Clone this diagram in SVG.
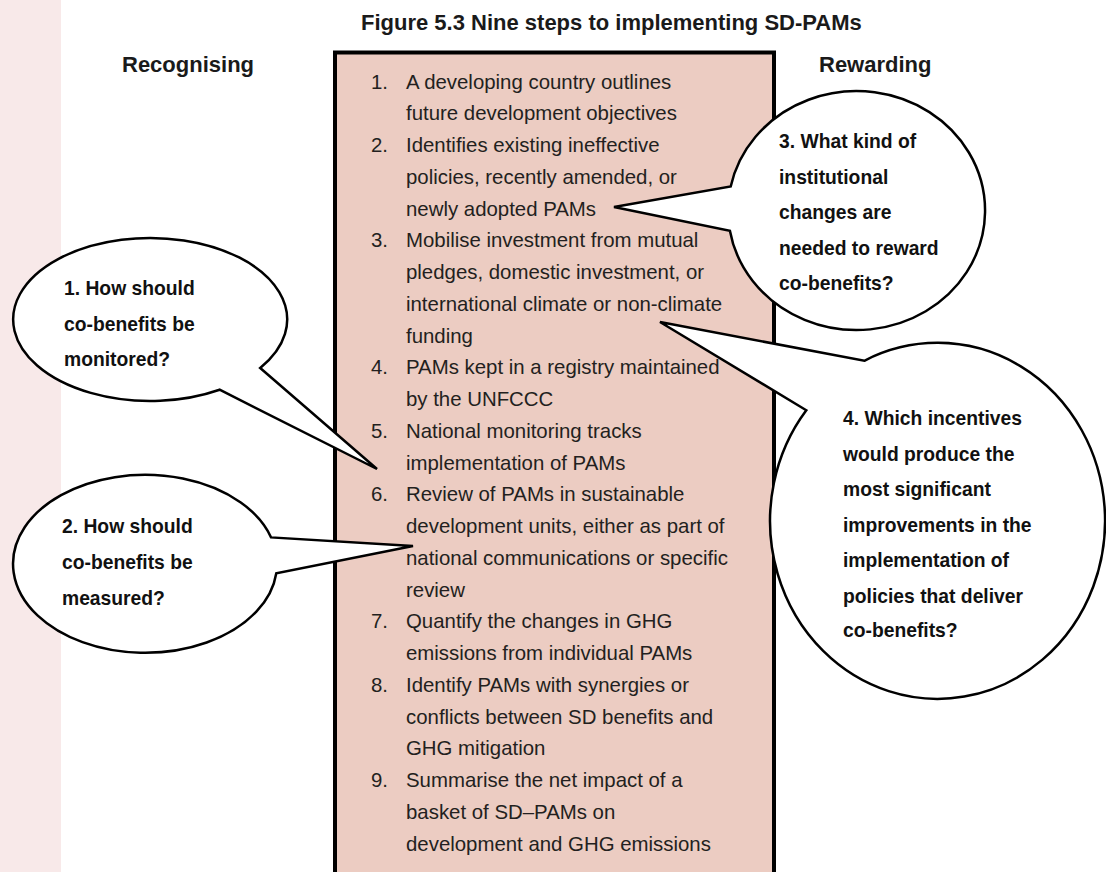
<svg xmlns="http://www.w3.org/2000/svg" width="1106" height="872" viewBox="0 0 1106 872">
<style>
.head{font-family:"Liberation Sans",Arial,sans-serif;font-weight:bold;font-size:22px;fill:#1a1a1a}
.step{font-family:"Liberation Sans",Arial,sans-serif;font-size:20.4px;fill:#231f20}
.q{font-family:"Liberation Sans",Arial,sans-serif;font-weight:bold;font-size:19.3px;fill:#111}
.bub{fill:#fff;stroke:#000;stroke-width:2.5;stroke-linejoin:miter}
</style>
<rect x="0" y="0" width="1106" height="872" fill="#fff"/>
<rect x="0" y="0" width="61" height="872" fill="#f8e9e9"/>
<text class="head" x="361" y="30">Figure 5.3 Nine steps to implementing SD-PAMs</text>
<text class="head" x="122" y="72">Recognising</text>
<text class="head" x="819" y="72">Rewarding</text>
<g id="steps-box">
<rect x="335" y="52.5" width="439" height="840" fill="#ecccc2" stroke="#000" stroke-width="4"/>
<text class="step">
<tspan x="371" y="88.5">1.</tspan><tspan x="406" y="88.5">A developing country outlines</tspan>
<tspan x="406" y="120.25">future development objectives</tspan>
<tspan x="371" y="152">2.</tspan><tspan x="406" y="152">Identifies existing ineffective</tspan>
<tspan x="406" y="183.75">policies, recently amended, or</tspan>
<tspan x="406" y="215.5">newly adopted PAMs</tspan>
<tspan x="371" y="247.25">3.</tspan><tspan x="406" y="247.25">Mobilise investment from mutual</tspan>
<tspan x="406" y="279">pledges, domestic investment, or</tspan>
<tspan x="406" y="310.75">international climate or non-climate</tspan>
<tspan x="406" y="342.5">funding</tspan>
<tspan x="371" y="374.25">4.</tspan><tspan x="406" y="374.25">PAMs kept in a registry maintained</tspan>
<tspan x="406" y="406">by the UNFCCC</tspan>
<tspan x="371" y="437.75">5.</tspan><tspan x="406" y="437.75">National monitoring tracks</tspan>
<tspan x="406" y="469.5">implementation of PAMs</tspan>
<tspan x="371" y="501.25">6.</tspan><tspan x="406" y="501.25">Review of PAMs in sustainable</tspan>
<tspan x="406" y="533">development units, either as part of</tspan>
<tspan x="406" y="564.75">national communications or specific</tspan>
<tspan x="406" y="596.5">review</tspan>
<tspan x="371" y="628.25">7.</tspan><tspan x="406" y="628.25">Quantify the changes in GHG</tspan>
<tspan x="406" y="660">emissions from individual PAMs</tspan>
<tspan x="371" y="691.75">8.</tspan><tspan x="406" y="691.75">Identify PAMs with synergies or</tspan>
<tspan x="406" y="723.5">conflicts between SD benefits and</tspan>
<tspan x="406" y="755.25">GHG mitigation</tspan>
<tspan x="371" y="787">9.</tspan><tspan x="406" y="787">Summarise the net impact of a</tspan>
<tspan x="406" y="818.75">basket of SD–PAMs on</tspan>
<tspan x="406" y="850.5">development and GHG emissions</tspan>
</text>
</g>
<g id="connectors"></g>
<g id="q1">
<path class="bub" d="M 260.2 368 A 137 81.5 0 1 0 219.6 389.7 L 377 469 Z"/>
<text class="q"><tspan x="64" y="295">1. How should</tspan><tspan x="64" y="331">co-benefits be</tspan><tspan x="64" y="366">monitored?</tspan></text>
</g>
<g id="q2">
<path class="bub" d="M 271.1 537.4 A 132 89 0 1 0 276.3 573.2 L 413 546 Z"/>
<text class="q"><tspan x="62" y="533">2. How should</tspan><tspan x="62" y="569">co-benefits be</tspan><tspan x="62" y="605">measured?</tspan></text>
</g>
<g id="q3">
<path class="bub" d="M 730.7 186.5 A 128.5 119.5 0 1 1 729.9 230.7 L 614 207 Z"/>
<text class="q"><tspan x="779" y="148">3. What kind of</tspan><tspan x="779" y="184">institutional</tspan><tspan x="779" y="219">changes are</tspan><tspan x="779" y="255">needed to reward</tspan><tspan x="779" y="290">co-benefits?</tspan></text>
</g>
<g id="q4">
<path class="bub" d="M 864.3 360.8 A 167.5 178 0 1 1 806.3 410.3 L 660 322 Z"/>
<text class="q"><tspan x="843" y="425">4. Which incentives</tspan><tspan x="843" y="461">would produce the</tspan><tspan x="843" y="496">most significant</tspan><tspan x="843" y="532">improvements in the</tspan><tspan x="843" y="567">implementation of</tspan><tspan x="843" y="603">policies that deliver</tspan><tspan x="843" y="637">co-benefits?</tspan></text>
</g>
</svg>
